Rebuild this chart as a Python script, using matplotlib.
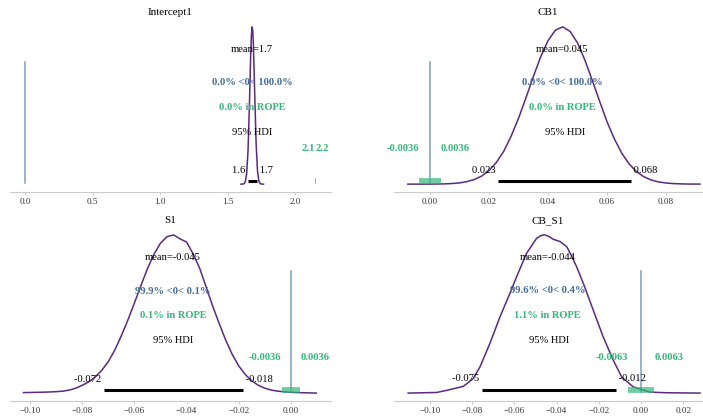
import matplotlib
matplotlib.use("Agg")
import matplotlib.pyplot as plt
from matplotlib.ticker import MultipleLocator

plt.rcParams['font.family'] = ['Liberation Serif', 'DejaVu Serif']

# posterior summaries
titles = ["Intercept1", "CB1", "S1", "CB_S1"]
means = [1.681, 0.0448, -0.0452, -0.0443]
hdis = [(1.647, 1.716), (0.0232, 0.0683), (-0.0716, -0.0184), (-0.0752, -0.0118)]
ropes = [(2.145, 2.152), (-0.0036, 0.0036), (-0.0036, 0.0036), (-0.0063, 0.0063)]
ref_below = [0.0, 0.0, 99.9, 99.6]
ref_above = [100.0, 100.0, 0.1, 0.4]
rope_pct = [0.0, 0.0, 0.1, 1.1]
ref_val = 0

# kde curves (x, density)
intercept_x = [1.598, 1.61, 1.62, 1.63, 1.64, 1.65, 1.66, 1.67, 1.675, 1.68,
               1.685, 1.69, 1.70, 1.71, 1.72, 1.73, 1.74, 1.75, 1.765]
intercept_d = [0.0, 0.01, 0.05, 0.34, 1.50, 4.81, 11.15, 18.68, 21.43, 22.65,
               22.13, 19.93, 12.67, 5.83, 1.93, 0.48, 0.08, 0.01, 0.0]

cb_x = [-0.0075, -0.005, -0.0025, 0.0, 0.0025, 0.005, 0.0075, 0.01, 0.0125, 0.015,
        0.0175, 0.02, 0.0225, 0.025, 0.0275, 0.03, 0.0325, 0.035, 0.0375, 0.04,
        0.0425, 0.045, 0.0475, 0.05, 0.0525, 0.055, 0.0575, 0.06, 0.0625, 0.065,
        0.0675, 0.07, 0.0725, 0.075, 0.0775, 0.08, 0.0825, 0.085, 0.0875, 0.09, 0.0915]
cb_d = [0.0, 0.0, 0.0, 0.01, 0.03, 0.06, 0.14, 0.28, 0.56, 1.04,
        1.82, 3.08, 4.91, 7.44, 10.86, 14.88, 19.47, 24.28, 28.80, 32.47,
        34.85, 35.60, 34.57, 31.97, 28.09, 23.50, 18.76, 14.13, 10.22, 7.01,
        4.56, 2.83, 1.67, 0.93, 0.50, 0.26, 0.12, 0.06, 0.02, 0.01, 0.01]

s_x = [-0.1025, -0.1, -0.0975, -0.095, -0.0925, -0.09, -0.0875, -0.085, -0.0825, -0.08,
       -0.0775, -0.075, -0.0725, -0.07, -0.0675, -0.065, -0.0625, -0.06, -0.0575, -0.055,
       -0.0525, -0.05, -0.0475, -0.045, -0.0425, -0.04, -0.0375, -0.035, -0.0325, -0.03,
       -0.0275, -0.025, -0.0225, -0.02, -0.0175, -0.015, -0.0125, -0.01, -0.0075, -0.005,
       -0.0025, 0.0, 0.0025, 0.005, 0.0075, 0.0097]
s_d = [0.12, 0.15, 0.17, 0.20, 0.23, 0.29, 0.38, 0.58, 0.93, 1.46,
       2.10, 3.00, 4.22, 5.82, 7.97, 10.59, 13.47, 16.59, 19.82, 22.90,
       25.55, 27.59, 28.78, 29.10, 28.37, 27.79, 25.61, 22.99, 19.50, 16.01,
       12.80, 9.75, 7.13, 5.01, 3.43, 2.27, 1.46, 0.93, 0.58, 0.38,
       0.26, 0.17, 0.12, 0.09, 0.06, 0.03]

cbs_x = [-0.1103, -0.0968, -0.0921, -0.0842, -0.0795, -0.0763, -0.0716, -0.0668, -0.0621,
         -0.0589, -0.0542, -0.0494, -0.0472, -0.0455, -0.0436, -0.0416, -0.0384, -0.0352,
         -0.033, -0.0305, -0.0273, -0.0226, -0.0179, -0.0131, -0.0091, -0.0036, 0.0043,
         0.012, 0.028]
cbs_d = [0.0, 0.09, 0.38, 0.95, 2.05, 3.71, 7.04, 10.85, 14.18,
         16.56, 19.89, 22.03, 22.43, 22.5, 22.28, 21.89, 21.56, 20.84,
         19.58, 17.98, 15.59, 11.79, 7.99, 4.66, 2.27, 0.86, 0.14,
         0.05, 0.0]

kdes = [(intercept_x, intercept_d), (cb_x, cb_d), (s_x, s_d), (cbs_x, cbs_d)]

kde_color = "#5a2a80"
ref_color = "#3d6d99"
rope_color = "#34b87a"
fs = 7.6

fig = plt.figure(figsize=(7.03, 4.17), dpi=100)
W, H = 703, 417
positions = [
    (10 / W, 1 - 192 / H, 321 / W, 173 / H),
    (394 / W, 1 - 192 / H, 308 / W, 173 / H),
    (10 / W, 1 - 401 / H, 321 / W, 174 / H),
    (394 / W, 1 - 401 / H, 308 / W, 174 / H),
]
xlims = [(-0.111, 2.264), (-0.0122, 0.0922), (-0.1077, 0.01535), (-0.117, 0.0289)]
steps = [0.5, 0.02, 0.02, 0.02]

for i in range(4):
    ax = fig.add_axes(positions[i])
    xs, ds = kdes[i]
    ax.plot(xs, ds, color=kde_color, lw=1.1)
    max_data = max(ds)
    ax.set_xlim(*xlims[i])
    ph = ax.get_ylim()[1]

    # hdi
    lo, hi = hdis[i]
    ax.plot([lo, hi], [ph * 0.02, ph * 0.02], lw=2.2, color="k", solid_capstyle="butt")
    ax.text(lo, ph * 0.07, f"{lo:.2g} ", size=fs, ha="right")
    ax.text(hi, ph * 0.07, f" {hi:.2g}", size=fs, ha="left")
    ax.text((lo + hi) / 2, ph * 0.3, "95% HDI", size=fs, ha="center")

    # point estimate
    ax.text(means[i], ph * 0.8, f"mean={means[i]:.2g}", size=fs, ha="center")

    # reference value
    ax.axvline(ref_val, ymin=0.05, ymax=0.75, lw=1.1, alpha=0.65, color=ref_color)
    ax.text(means[i], ph * 0.6, f"{ref_below[i]:.1f}% <{ref_val}< {ref_above[i]:.1f}%",
            size=fs, weight="bold", ha="center", color=ref_color)

    # rope
    r0, r1 = ropes[i]
    ax.plot([r0, r1], [max_data * 0.02, max_data * 0.02], lw=4.2, color=rope_color,
            alpha=0.7, solid_capstyle="butt")
    ax.text(means[i], ph * 0.45, f"{rope_pct[i]:.1f}% in ROPE", size=fs,
            weight="bold", ha="center", color=rope_color)
    ax.text(r0, ph * 0.2, f"{r0:.2g}", size=fs, weight="bold", ha="right", color=rope_color)
    ax.text(r1, ph * 0.2, f"{r1:.2g}", size=fs, weight="bold", ha="left", color=rope_color)

    ax.set_title(titles[i], fontsize=8, pad=2.8)
    ax.set_yticks([])
    for side in ["left", "right", "top"]:
        ax.spines[side].set_visible(False)
    ax.spines["bottom"].set_color("#cccccc")
    ax.xaxis.set_major_locator(MultipleLocator(steps[i]))
    ax.tick_params(axis="x", labelsize=6.6, length=2.5, width=0.8, pad=2,
                   color="#cccccc", labelcolor="#333333")
    ax.set_facecolor("none")

fig.savefig("out.png", dpi=100)
